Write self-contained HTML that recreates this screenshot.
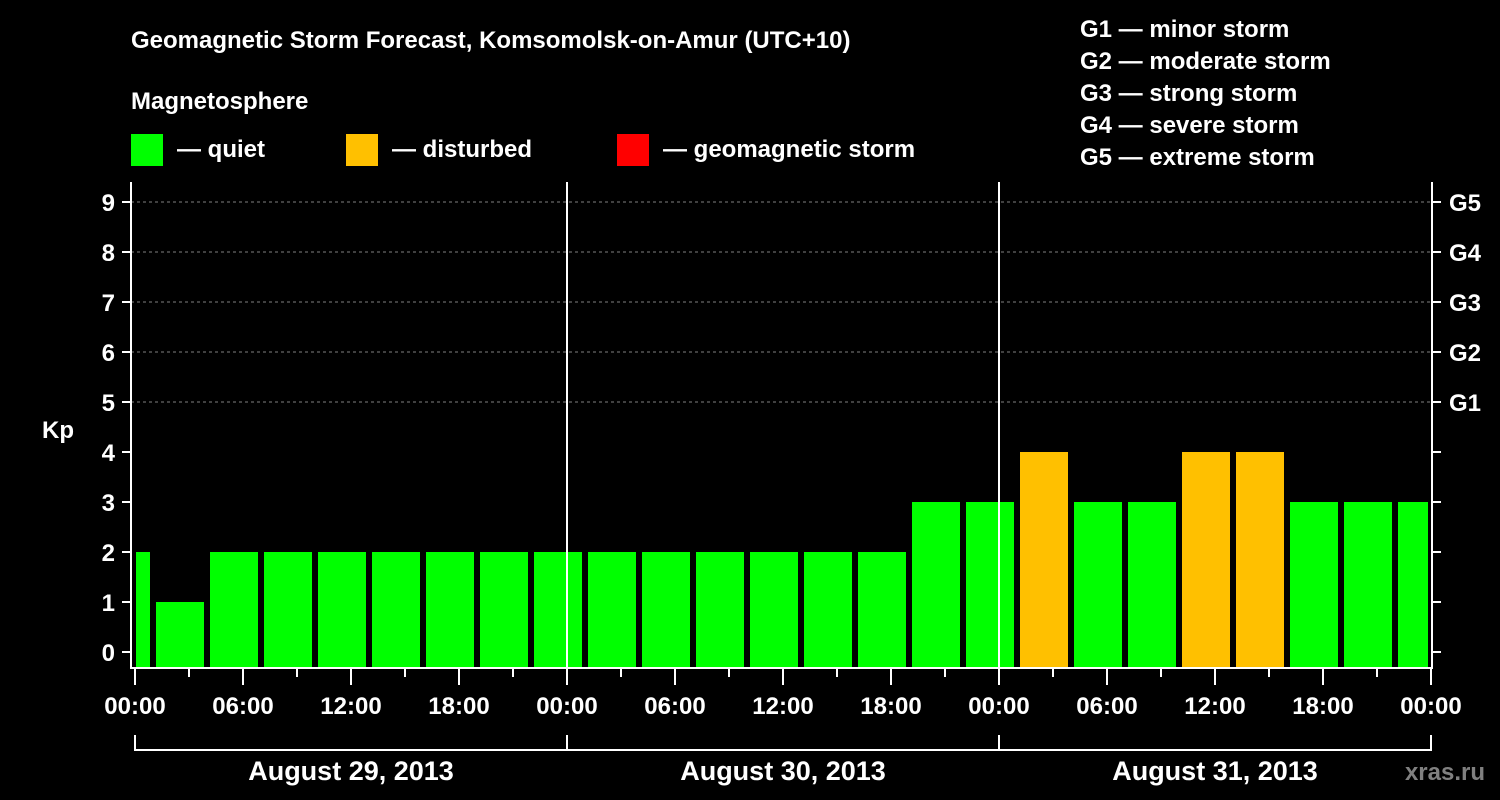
<!DOCTYPE html>
<html><head><meta charset="utf-8"><style>
body{margin:0;background:#000;}
svg{display:block;font-family:"Liberation Sans",Arial,sans-serif;font-weight:bold;}
</style></head><body>
<svg id="c" width="1500" height="800" viewBox="0 0 1500 800">
<rect width="1500" height="800" fill="#000"/>
<text x="131" y="48" fill="#fff" font-size="24">Geomagnetic Storm Forecast, Komsomolsk-on-Amur (UTC+10)</text>
<text x="131" y="109" fill="#fff" font-size="24">Magnetosphere</text>
<g><rect x="131" y="134" width="32" height="32" fill="#00ff00"/><text x="177" y="157" fill="#fff" font-size="24">— quiet</text></g>
<g><rect x="346" y="134" width="32" height="32" fill="#ffc000"/><text x="392" y="157" fill="#fff" font-size="24">— disturbed</text></g>
<g><rect x="617" y="134" width="32" height="32" fill="#ff0000"/><text x="663" y="157" fill="#fff" font-size="24">— geomagnetic storm</text></g>
<g fill="#fff" font-size="24">
<text x="1080" y="37">G1 — minor storm</text>
<text x="1080" y="69">G2 — moderate storm</text>
<text x="1080" y="101">G3 — strong storm</text>
<text x="1080" y="133">G4 — severe storm</text>
<text x="1080" y="165">G5 — extreme storm</text>
</g>
<text x="42" y="438" fill="#fff" font-size="24">Kp</text>
<text x="1485" y="780" fill="#808080" font-size="24" text-anchor="end">xras.ru</text>
<g id="plot"></g>
</svg>
<script>
const kpValues=[2,1,2,2,2,2,2,2,2,2,2,2,2,2,2,3,3,4,3,3,4,4,3,3,3];
const yTicks=[0,1,2,3,4,5,6,7,8,9];
const gLabels=["G1","G2","G3","G4","G5"];
const hourLabels=["00:00","06:00","12:00","18:00"];
const dateLabels=["August 29, 2013","August 30, 2013","August 31, 2013"];
const NS="http://www.w3.org/2000/svg";
const X0=135,PX_H=18,L=131,R=1432,T=182,B=668;
const xs=h=>X0+h*PX_H;
const ys=v=>652-v*50;
const g=document.getElementById('plot');
function mk(tag,at,par){const e=document.createElementNS(NS,tag);for(const k in at)e.setAttribute(k,at[k]);(par||g).appendChild(e);return e;}
// grid
[5,6,7,8,9].forEach(v=>{const e=mk('line',{x1:L,x2:R,y1:ys(v),y2:ys(v),stroke:'#808080','stroke-dasharray':'3,3'});

});
// bars
kpValues.forEach((v,i)=>{const s=-2+3*i;let x1=xs(s)+3,x2=xs(s+3)-3;x1=Math.max(x1,136);x2=Math.min(x2,1428);
const r=mk('rect',{x:x1,y:ys(v),width:x2-x1,height:B-1-ys(v),fill:v>=5?'#ff0000':(v>=4?'#ffc000':'#00ff00')});

});
// day separators
[1,2].forEach(d=>{const e=mk('line',{x1:xs(24*d),x2:xs(24*d),y1:T,y2:B,stroke:'#fff','stroke-width':2});

});
// frame
const f=mk('path',{d:`M${L} ${T}V${B}H${R}V${T}`,stroke:'#fff','stroke-width':2,fill:'none'});


// y ticks
yTicks.forEach(v=>{mk('line',{x1:L-9,x2:L,y1:ys(v),y2:ys(v),stroke:'#fff','stroke-width':2});
mk('line',{x1:R,x2:R+9,y1:ys(v),y2:ys(v),stroke:'#fff','stroke-width':2});
const t=mk('text',{x:115,y:ys(v)+9,fill:'#fff','font-size':24,'text-anchor':'end'});t.textContent=v;

});
gLabels.forEach((s,i)=>{const t=mk('text',{x:1449,y:ys(5+i)+9,fill:'#fff','font-size':24});t.textContent=s;

});
// x ticks
for(let h=0;h<=72;h+=3){const major=h%6===0;mk('line',{x1:xs(h),x2:xs(h),y1:B,y2:B+(major?17:9),stroke:'#fff','stroke-width':2});}
for(let h=0;h<=72;h+=6){const t=mk('text',{x:xs(h),y:714,fill:'#fff','font-size':24,'text-anchor':'middle'});t.textContent=hourLabels[(h/6)%4];

}
// date bracket
mk('path',{d:`M${xs(0)} 735V750H${xs(72)}V735M${xs(24)} 735V750M${xs(48)} 735V750`,stroke:'#fff','stroke-width':2,fill:'none'});
dateLabels.forEach((s,i)=>{const t=mk('text',{x:xs(24*i+12),y:780,fill:'#fff','font-size':27,'text-anchor':'middle'});t.textContent=s;

});
</script>
</body></html>
